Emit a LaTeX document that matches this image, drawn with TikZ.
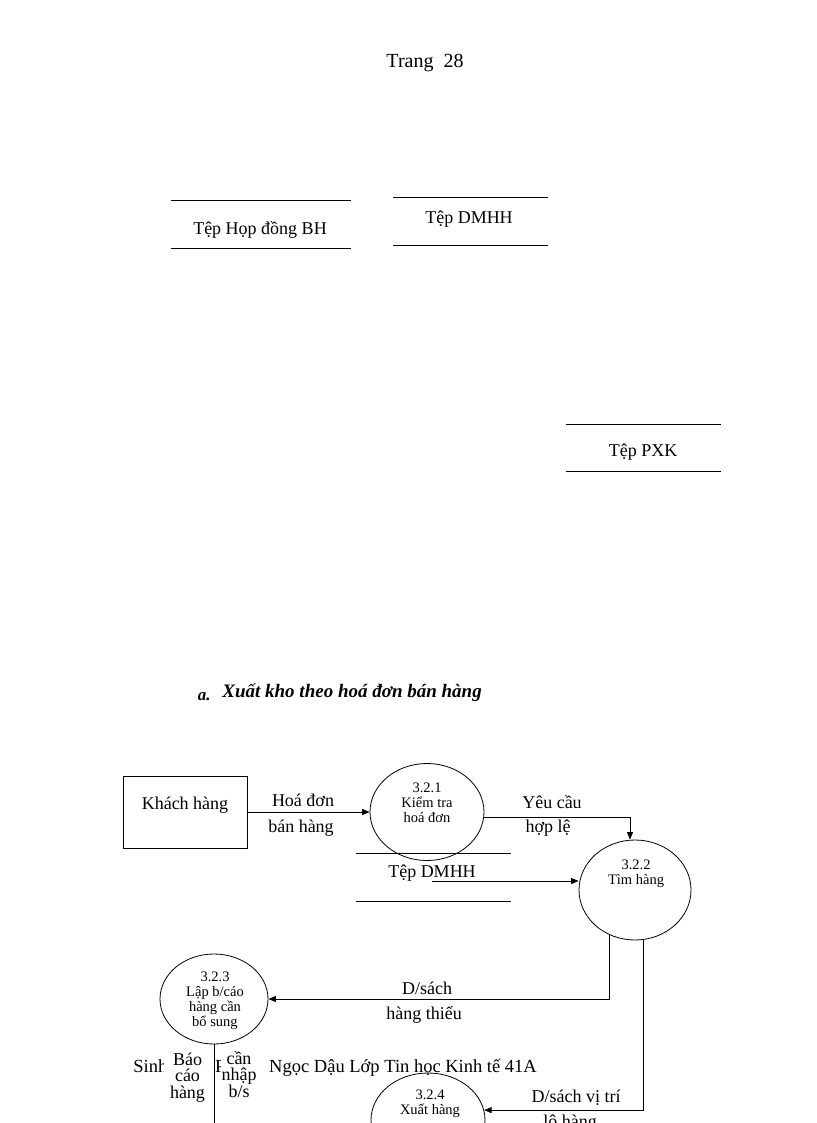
\documentclass[tikz,border=0pt]{standalone}
\usepackage{fontspec}
\setmainfont{Liberation Serif}
\usetikzlibrary{shapes.geometric,arrows.meta}

\begin{document}
\begin{tikzpicture}[x=1pt,y=-1pt,line width=0.8pt,
    txt/.style={inner sep=0pt,font=\fontsize{18}{16.5}\selectfont,align=center},
    small/.style={inner sep=0pt,font=\fontsize{14.5}{14.7}\selectfont,align=center},
    proc/.style={draw,ellipse,inner sep=0pt},
    flow/.style={-{Triangle[length=7.5pt,width=6pt]}}]

  \clip (0,0) rectangle (816,1123);

  \node[txt,font=\fontsize{20}{20}\selectfont,anchor=base] (trang) at (425,68) {Trang\ \ 28};

  % kho du lieu
  \foreach \xa/\xb/\ya/\yb in {171/351/200/248,393/548/197/245,566/721/424/471,356/511/853/901}{
    \draw (\xa,\ya) -- (\xb,\ya);
    \draw (\xa,\yb) -- (\xb,\yb);
  }
  \node[txt,anchor=base] (hopdong) at (260,234) {Tệp Họp đồng BH};
  \node[txt,anchor=base] (dmhh) at (469,223) {Tệp DMHH};
  \node[txt,anchor=base] (pxk) at (643,456) {Tệp PXK};

  \node[inner sep=0pt,anchor=base east,font=\fontsize{17}{17}\selectfont\bfseries\itshape] (muc) at (211,700) {a.};
  \node[inner sep=0pt,anchor=base west,font=\fontsize{19}{19}\selectfont\bfseries\itshape] (tieude) at (222,697) {Xuất kho theo hoá đơn bán hàng};

  % so do
  \node[draw,minimum width=124pt,minimum height=72pt] (kh) at (185,812) {};
  \node[txt,anchor=base] (khtxt) at (185,809) {Khách hàng};

  \node[proc,minimum width=114pt,minimum height=97pt] (p1) at (427,812) {};
  \node[small,anchor=base] (p1txt) at (427,822) {3.2.1\\Kiểm tra\\hoá đơn};

  \node[proc,minimum width=112pt,minimum height=100pt] (p2) at (635,890) {};
  \node[small,anchor=base] (p2txt) at (636,884) {3.2.2\\Tìm hàng};

  \node[proc,minimum width=108pt,minimum height=90pt] (p3) at (214,999) {};
  \node[small,anchor=base] (p3txt) at (215,1026) {3.2.3\\Lập b/cáo\\hàng cần\\bổ sung};

  \node[proc,minimum width=114pt,minimum height=94pt] (p4) at (428,1120) {};
  \node[small,anchor=base] (p4txt) at (430,1114) {3.2.4\\Xuất hàng};

  \node[txt,anchor=base] (dm2) at (432,877) {Tệp DMHH};
  \coordinate (dmout) at (432,881);

  \draw[flow] (kh.east) -- (p1.west);
  \node[txt,anchor=base] (hd1) at (303,806) {Hoá đơn};
  \node[txt,anchor=base] (hd2) at (301,832) {bán hàng};

  \draw[flow] (p1.-5) -| ([xshift=-5pt]p2.north);
  \node[txt,anchor=base] (yc1) at (552,808) {Yêu cầu};
  \node[txt,anchor=base] (yc2) at (548,832) {hợp lệ};

  \draw[flow] (dmout) -- (dmout -| p2.west);

  \draw[flow] (p2.240) |- (p3.east);
  \node[txt,anchor=base] (ds1) at (427,994) {D/sách};
  \node[txt,anchor=base] (ds2) at (424,1019) {hàng thiếu};

  \draw[flow] (p2.280) |- (p4.10);
  \node[txt,anchor=base] (vt1) at (576,1102) {D/sách vị trí};
  \node[txt,anchor=base] (vt2) at (570,1127) {lô hàng};

  % chan trang
  \node[inner sep=0pt,anchor=base west,font=\fontsize{18.5}{18.5}\selectfont] (footer) at (133,1072) {Sinh viên: Phạm\hspace{12pt}Ngọc Dậu Lớp Tin học Kinh tế 41A};

  \node[txt,fill=white,minimum width=48pt,inner ysep=1pt,anchor=base] (bc) at (187.5,1098) {Báo\\cáo\\hàng};
  \node[txt,fill=white,inner xsep=1pt,inner ysep=1pt,anchor=base] (cn) at (239,1097) {cần\\nhập\\b/s};

  \coordinate (p3out) at (214,1130);
  \draw (p3.south) -- (p3out);
\end{tikzpicture}
\end{document}
